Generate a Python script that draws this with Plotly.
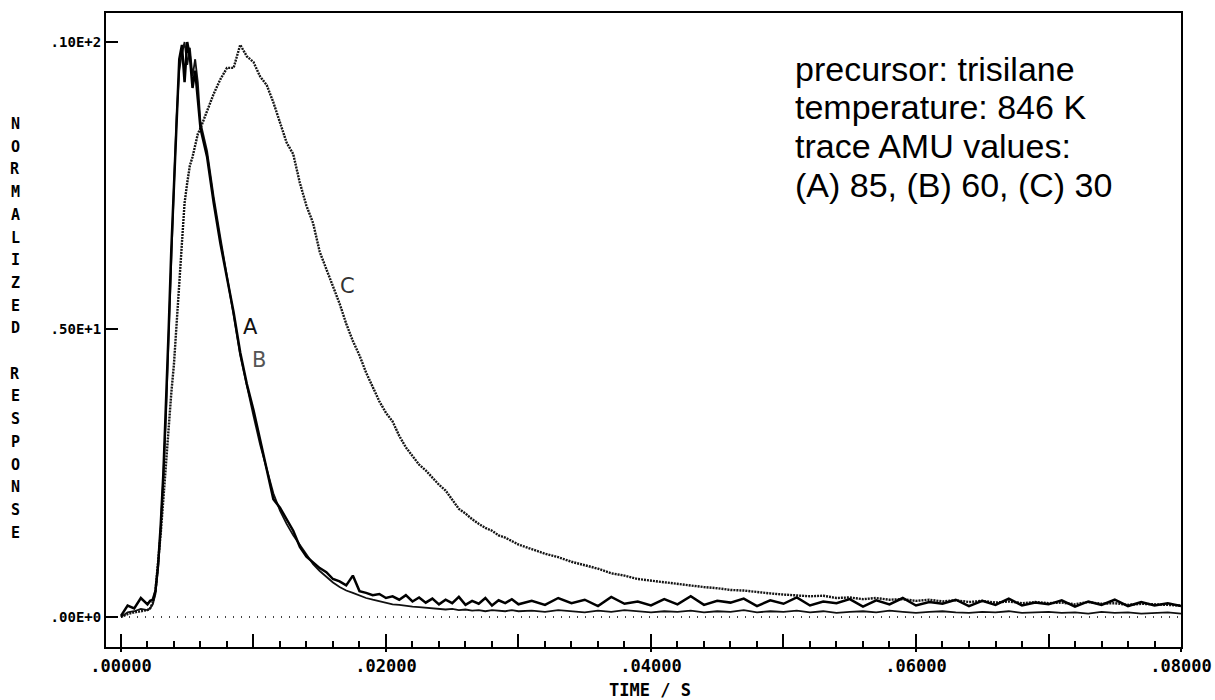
import plotly.graph_objects as go

# ---------------- data ----------------
time_s = [
    0.0000, 0.0005, 0.0010, 0.0015, 0.0020,
    0.0022, 0.0024, 0.0026, 0.0028, 0.0030, 0.0032, 0.0034, 0.0036, 0.0038, 0.0040,
    0.0042, 0.0044, 0.0046, 0.0048, 0.0050, 0.0052, 0.0054, 0.0056, 0.0058, 0.0060,
    0.0065, 0.0070, 0.0075, 0.0080, 0.0085, 0.0090, 0.0095, 0.0100,
    0.0105, 0.0110, 0.0115, 0.0120, 0.0125, 0.0130, 0.0135, 0.0140,
    0.0145, 0.0150, 0.0155, 0.0160, 0.0165, 0.0170, 0.0175, 0.0180,
    0.0185, 0.0190, 0.0195, 0.0200, 0.0205, 0.0210, 0.0215, 0.0220,
    0.0225, 0.0230, 0.0235, 0.0240, 0.0245, 0.0250, 0.0255, 0.0260,
    0.0265, 0.0270, 0.0275, 0.0280, 0.0285, 0.0290, 0.0295, 0.0300,
    0.031, 0.032, 0.033, 0.034, 0.035, 0.036, 0.037, 0.038, 0.039, 0.040,
    0.041, 0.042, 0.043, 0.044, 0.045, 0.046, 0.047, 0.048, 0.049, 0.050,
    0.051, 0.052, 0.053, 0.054, 0.055, 0.056, 0.057, 0.058, 0.059, 0.060,
    0.061, 0.062, 0.063, 0.064, 0.065, 0.066, 0.067, 0.068, 0.069, 0.070,
    0.071, 0.072, 0.073, 0.074, 0.075, 0.076, 0.077, 0.078, 0.079, 0.080,
]

# trace A: AMU 85
amu85 = [
    0.02, 0.20, 0.15, 0.33, 0.22,
    0.28, 0.30, 0.45, 0.90, 1.60, 2.50, 3.60, 5.00, 6.40, 7.60,
    8.80, 9.70, 9.95, 9.30, 10.0, 9.75, 9.20, 9.50, 9.00, 8.50,
    8.00, 7.20, 6.50, 5.90, 5.30, 4.60, 4.05, 3.60,
    3.10, 2.60, 2.05, 1.90, 1.70, 1.50, 1.22, 1.05,
    0.95, 0.85, 0.78, 0.66, 0.62, 0.55, 0.72, 0.45,
    0.42, 0.38, 0.40, 0.33, 0.36, 0.30, 0.38, 0.27,
    0.34, 0.25, 0.32, 0.22, 0.30, 0.24, 0.35, 0.21,
    0.28, 0.23, 0.33, 0.20, 0.29, 0.24, 0.31, 0.22,
    0.28, 0.21, 0.33, 0.24, 0.30, 0.19, 0.35, 0.23, 0.27, 0.20,
    0.31, 0.22, 0.36, 0.21, 0.28, 0.25, 0.32, 0.19, 0.29, 0.23,
    0.34, 0.20, 0.27, 0.24, 0.31, 0.18, 0.29, 0.22, 0.33, 0.20,
    0.26, 0.23, 0.30, 0.19, 0.28, 0.21, 0.32, 0.20, 0.25, 0.22,
    0.29, 0.18, 0.27, 0.21, 0.30, 0.19, 0.26, 0.20, 0.24, 0.19,
]

# trace B: AMU 60
amu60 = [
    0.00, 0.08, 0.10, 0.14, 0.12,
    0.15, 0.22, 0.40, 0.85, 1.55, 2.45, 3.50, 4.90, 6.30, 7.50,
    8.70, 9.50, 9.80, 10.0, 9.60, 9.90, 9.40, 9.70, 9.30, 8.60,
    8.10, 7.30, 6.60, 5.95, 5.25, 4.55, 4.00, 3.50,
    3.00, 2.55, 2.15, 1.85, 1.62, 1.42, 1.25, 1.08,
    0.92, 0.80, 0.70, 0.60, 0.52, 0.46, 0.42, 0.37,
    0.33, 0.30, 0.27, 0.25, 0.22, 0.21, 0.19, 0.18,
    0.17, 0.16, 0.15, 0.15, 0.13, 0.14, 0.12, 0.13,
    0.11, 0.12, 0.10, 0.12, 0.11, 0.10, 0.12, 0.10,
    0.11, 0.09, 0.12, 0.10, 0.08, 0.11, 0.09, 0.12, 0.10, 0.08,
    0.10, 0.09, 0.11, 0.08, 0.10, 0.09, 0.12, 0.08, 0.10, 0.09,
    0.11, 0.08, 0.10, 0.07, 0.09, 0.10, 0.08, 0.11, 0.09, 0.07,
    0.09, 0.10, 0.08, 0.07, 0.09, 0.08, 0.10, 0.07, 0.08, 0.09,
    0.07, 0.08, 0.06, 0.09, 0.07, 0.08, 0.06, 0.07, 0.08, 0.06,
]

# trace C: AMU 30
amu30 = [
    0.00, 0.05, 0.08, 0.10, 0.12,
    0.15, 0.25, 0.45, 0.90, 1.45, 2.05, 2.70, 3.30, 3.90, 4.40,
    5.10, 5.90, 6.60, 7.20, 7.55, 7.85, 8.00, 8.20, 8.40, 8.50,
    8.80, 9.10, 9.35, 9.55, 9.55, 9.95, 9.75, 9.65,
    9.40, 9.25, 8.95, 8.60, 8.25, 8.05, 7.55, 7.15,
    6.85, 6.35, 6.05, 5.75, 5.45, 5.10, 4.80, 4.55,
    4.25, 4.00, 3.75, 3.55, 3.40, 3.15, 2.95, 2.80,
    2.65, 2.55, 2.42, 2.30, 2.20, 2.05, 1.88, 1.80,
    1.70, 1.62, 1.55, 1.50, 1.42, 1.38, 1.32, 1.26,
    1.18, 1.10, 1.04, 0.96, 0.90, 0.84, 0.76, 0.72, 0.66, 0.63,
    0.60, 0.57, 0.55, 0.52, 0.50, 0.47, 0.46, 0.43, 0.41, 0.39,
    0.38, 0.36, 0.37, 0.33, 0.34, 0.31, 0.33, 0.30, 0.31, 0.28,
    0.30, 0.27, 0.29, 0.26, 0.28, 0.25, 0.27, 0.24, 0.26, 0.24,
    0.25, 0.22, 0.26, 0.23, 0.24, 0.21, 0.23, 0.22, 0.21, 0.20,
]

baseline_t = [0.0, 0.08]
baseline_v = [0.0, 0.0]

x_tick_vals = [0.00, 0.01, 0.02, 0.03, 0.04, 0.05, 0.06, 0.07, 0.08]
x_tick_text = [".00000", "", ".02000", "", ".04000", "", ".06000", "", ".08000"]
y_tick_vals = [0, 5, 10]
y_tick_text = [".00E+0", ".50E+1", ".10E+2"]

curve_labels = ["A", "B", "C"]
curve_label_t = [0.0098, 0.0104, 0.0171]
curve_label_v = [5.04, 4.47, 5.76]

note_lines = [
    "precursor: trisilane",
    "temperature: 846 K",
    "trace AMU values:",
    "(A) 85, (B) 60, (C) 30",
]
y_title = "NORMALIZED RESPONSE"
x_title = "TIME / S"

# ---------------- layout geometry (pixels) ----------------
W, H = 1215, 700
L, R, T, B = 106, 1181, 13, 647


def px(x):
    return (x - L) / (R - L)


def py(y):
    return (B - y) / (B - T)


MONO = "DejaVu Sans Mono"

fig = go.Figure()

fig.add_trace(go.Scatter(x=baseline_t, y=baseline_v, mode="lines", xaxis="x2",
                         line=dict(color="black", width=1.5, dash="1px,7px"),
                         hoverinfo="skip"))
fig.add_trace(go.Scatter(x=time_s, y=amu30, mode="lines", name="C",
                         line=dict(color="#151515", width=2.4, dash="2px,1px")))
fig.add_trace(go.Scatter(x=time_s, y=amu60, mode="lines", name="B",
                         line=dict(color="#111111", width=1.8)))
fig.add_trace(go.Scatter(x=time_s, y=amu85, mode="lines", name="A",
                         line=dict(color="black", width=2.5)))

annotations = []
# curve labels
for lab, t, v, col in zip(curve_labels, curve_label_t, curve_label_v,
                          ["#111111", "#555555", "#333333"]):
    annotations.append(dict(x=t, y=v, xref="x", yref="y", text=lab, showarrow=False,
                            font=dict(family="DejaVu Sans", size=21, color=col)))

# note block
note_centers = [69, 107.5, 146, 184.5]
for line, yc in zip(note_lines, note_centers):
    annotations.append(dict(x=px(794), y=py(yc), xref="paper", yref="paper",
                            xanchor="left", yanchor="middle", text=line, showarrow=False,
                            borderpad=0,
                            font=dict(family="Liberation Sans", size=34, color="black")))

# vertical stacked y title
y0, step = 124, 22.7
for i, ch in enumerate(y_title):
    if ch == " ":
        continue
    annotations.append(dict(x=px(15), y=py(y0 + i * step), xref="paper", yref="paper",
                            xanchor="center", yanchor="middle", text=ch, showarrow=False,
                            font=dict(family=MONO, size=15, color="black", weight="bold")))

# x title
annotations.append(dict(x=px(650), y=py(690), xref="paper", yref="paper",
                        xanchor="center", yanchor="middle", text=x_title, showarrow=False,
                        font=dict(family=MONO, size=17, color="black", weight="bold")))

x_range = [-0.00113, 0.08]
y_range = [-0.522, 10.504]

fig.update_layout(
    width=W, height=H, autosize=False,
    margin=dict(l=L, r=W - R, t=T, b=H - B, autoexpand=False),
    paper_bgcolor="white", plot_bgcolor="white",
    showlegend=False,
    annotations=annotations,
    xaxis=dict(
        range=x_range, showgrid=False, zeroline=False, automargin=False,
        showline=True, linecolor="black", linewidth=2, mirror=True,
        tickmode="array", tickvals=x_tick_vals, ticktext=x_tick_text,
        ticks="inside", ticklen=13, tickwidth=2, tickcolor="black",
        ticklabelstandoff=3,
        tickfont=dict(family=MONO, size=17, color="black", weight="bold"),
        minor=dict(dtick=0.002, tick0=0, ticks="inside", ticklen=6, tickwidth=1.5,
                   tickcolor="black", showgrid=False),
    ),
    xaxis2=dict(
        range=x_range, overlaying="x", matches="x", side="bottom", automargin=False,
        showgrid=False, zeroline=False, showline=False,
        tickmode="array", tickvals=[0.0, 0.02, 0.04, 0.06, 0.08],
        ticks="outside", ticklen=4, tickwidth=2, tickcolor="black",
        showticklabels=False,
    ),
    yaxis=dict(
        range=y_range, showgrid=False, zeroline=False, automargin=False,
        showline=True, linecolor="black", linewidth=2, mirror=True,
        tickmode="array", tickvals=y_tick_vals, ticktext=y_tick_text,
        ticks="inside", ticklen=12, tickwidth=2, tickcolor="black",
        tickfont=dict(family=MONO, size=14, color="black", weight="bold"),
    ),
)

fig.write_html("out.html")
